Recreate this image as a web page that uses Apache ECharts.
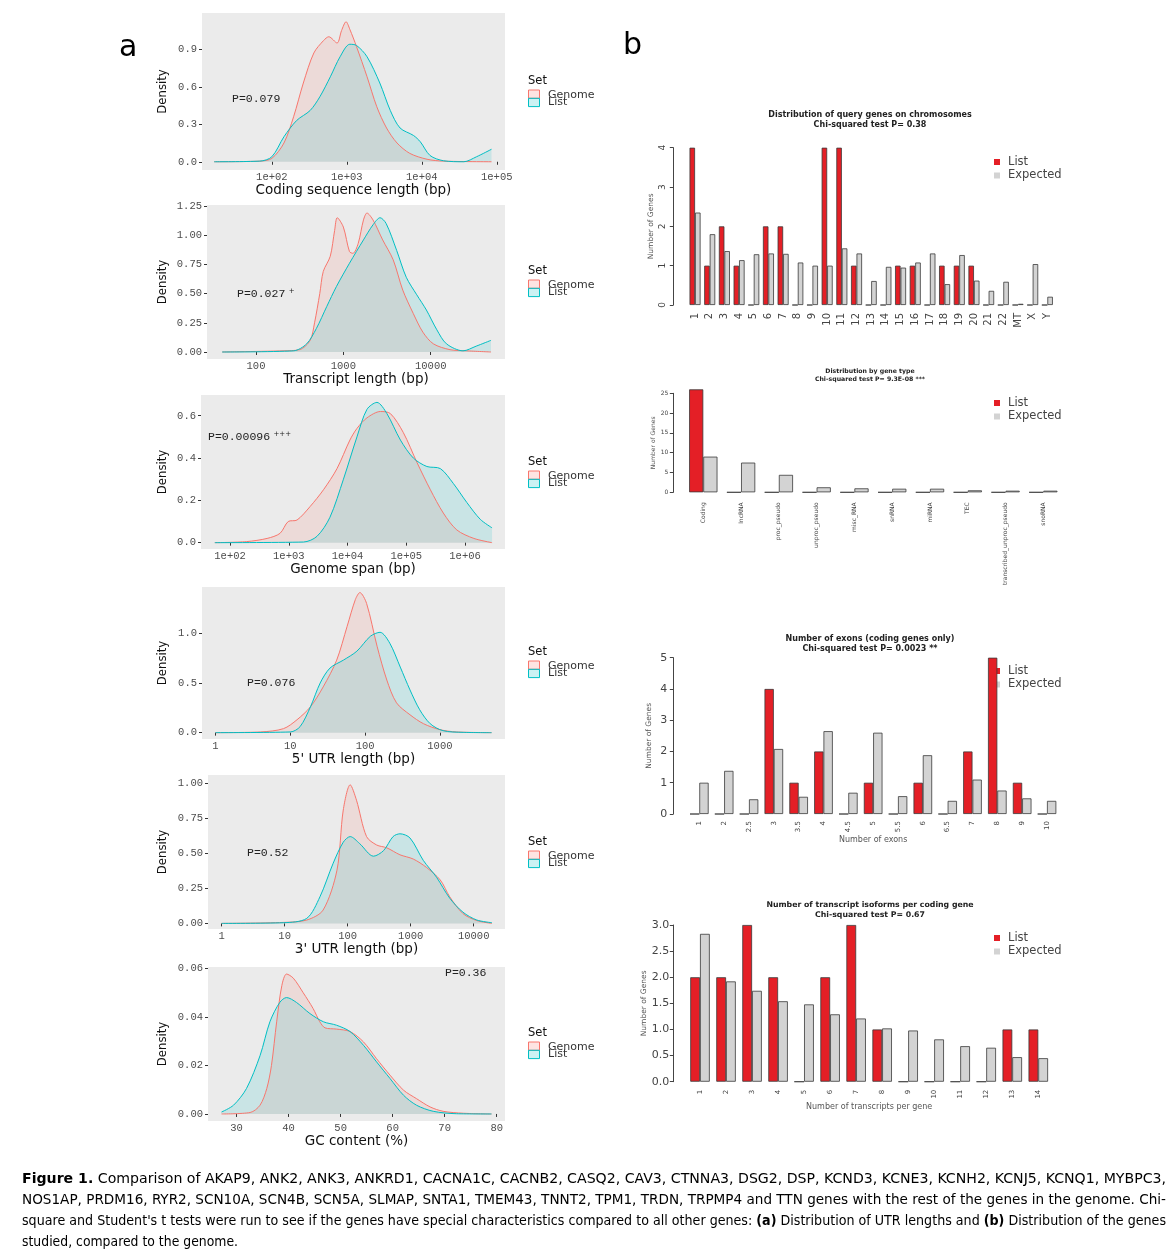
<!DOCTYPE html>
<html><head><meta charset="utf-8">
<script src="https://cdn.jsdelivr.net/npm/echarts@6/dist/echarts.min.js"></script>
<style>html,body{margin:0;padding:0;background:#fff}#c{width:1176px;height:1257px}</style>
</head><body><div id="c"></div>
<script>
// ---------------- Panel a: density curves (x in bp / %, y = density) ----------------
const cdsGenome = [[17,0],[69,0.005],[100,0.027],[145,0.15],[195,0.36],[263,0.63],[363,0.87],[490,0.97],[575,1.0],[741,0.95],[851,1.05],[977,1.12],[1096,1.06],[1349,0.92],[1862,0.68],[2512,0.44],[3388,0.27],[4677,0.15],[6918,0.067],[11749,0.02],[19498,0.005],[85114,0]];
const cdsList = [[17,0],[69,0.005],[100,0.04],[145,0.2],[214,0.33],[324,0.41],[437,0.52],[603,0.68],[813,0.84],[1096,0.94],[1349,0.93],[1862,0.84],[2754,0.63],[3802,0.41],[5129,0.27],[7762,0.21],[9550,0.16],[12882,0.05],[19498,0.008],[36308,0],[53703,0.04],[85114,0.1]];
const cdsXTicks = [100,1000,10000,100000];
const cdsXLabels = ['1e+02','1e+03','1e+04','1e+05'];
const cdsYTicks = [0,0.3,0.6,0.9];
const cdsYLabels = ['0.0','0.3','0.6','0.9'];

const txGenome = [[41,0],[204,0.01],[316,0.02],[417,0.1],[468,0.25],[537,0.5],[589,0.69],[708,0.82],[794,1.04],[851,1.15],[1000,1.07],[1175,0.86],[1288,0.845],[1479,0.93],[1698,1.13],[1862,1.19],[2188,1.13],[2818,0.96],[3715,0.79],[4786,0.53],[6310,0.33],[8128,0.17],[10715,0.07],[16596,0.02],[25704,0.01],[48978,0]];
const txList = [[41,0],[269,0.01],[380,0.07],[490,0.2],[646,0.39],[832,0.56],[1175,0.76],[1698,0.96],[2188,1.09],[2630,1.15],[3090,1.1],[4074,0.87],[5248,0.64],[6918,0.49],[8913,0.36],[11749,0.19],[15136,0.07],[23442,0.01],[33113,0.05],[48978,0.1]];
const txXTicks = [100,1000,10000];
const txXLabels = ['100','1000','10000'];
const txYTicks = [0,0.25,0.5,0.75,1,1.25];
const txYLabels = ['0.00','0.25','0.50','0.75','1.00','1.25'];

const spanGenome = [[55,0],[191,0.005],[427,0.02],[708,0.044],[977,0.1],[1380,0.107],[2291,0.17],[3890,0.25],[6607,0.35],[10965,0.485],[14454,0.54],[21380,0.59],[36308,0.62],[53703,0.61],[89125,0.52],[151356,0.38],[257040,0.25],[426580,0.14],[724436,0.06],[1412538,0.02],[2884032,0]];
const spanList = [[55,0],[1778,0.003],[3020,0.03],[5012,0.12],[8511,0.3],[14454,0.5],[21380,0.63],[31623,0.663],[46774,0.61],[79433,0.485],[131826,0.4],[223872,0.36],[380189,0.35],[630957,0.28],[1071519,0.19],[1819701,0.11],[2884032,0.07]];
const spanXTicks = [100,1000,10000,100000,1000000];
const spanXLabels = ['1e+02','1e+03','1e+04','1e+05','1e+06'];
const spanYTicks = [0,0.2,0.4,0.6];
const spanYLabels = ['0.0','0.2','0.4','0.6'];

const utr5Genome = [[1,0],[4,0.007],[8.1,0.04],[12.3,0.13],[18.6,0.26],[27.5,0.46],[41.7,0.73],[57.5,1.07],[74.1,1.34],[85.1,1.41],[104.7,1.3],[144.5,0.87],[195,0.53],[263,0.3],[398,0.18],[603,0.09],[1000,0.03],[1660,0.007],[4898,0]];
const utr5List = [[1,0],[10,0.007],[13.5,0.06],[18.6,0.26],[25.1,0.5],[33.9,0.65],[51.3,0.73],[77.6,0.82],[117.5,0.97],[158.5,1.01],[213.8,0.9],[295,0.66],[398,0.43],[537,0.23],[741,0.09],[1096,0.02],[2042,0.003],[4898,0]];
const utr5XTicks = [1,10,100,1000];
const utr5XLabels = ['1','10','100','1000'];
const utr5YTicks = [0,0.5,1];
const utr5YLabels = ['0.0','0.5','1.0'];

const utr3Genome = [[1,0],[9.5,0.007],[22.4,0.024],[40.7,0.095],[67.6,0.38],[85.1,0.81],[109.6,0.99],[138,0.88],[199.5,0.62],[288.4,0.56],[416.9,0.54],[676,0.49],[1096,0.46],[1778,0.4],[2951,0.31],[4169,0.19],[6761,0.07],[11220,0.02],[19498,0]];
const utr3List = [[1,0],[9.5,0.005],[22.4,0.036],[36.3,0.19],[58.9,0.43],[85.1,0.58],[109.6,0.62],[155,0.57],[257,0.48],[371.5,0.52],[524.8,0.62],[676,0.64],[977,0.61],[1585,0.45],[2570,0.33],[4169,0.18],[6761,0.08],[11220,0.024],[19498,0.005]];
const utr3XTicks = [1,10,100,1000,10000];
const utr3XLabels = ['1','10','100','1000','10000'];
const utr3YTicks = [0,0.25,0.5,0.75,1];
const utr3YLabels = ['0.00','0.25','0.50','0.75','1.00'];

const gcGenome = [[27.1,0],[32.6,0.0006],[34.5,0.0036],[35.8,0.0105],[36.7,0.02],[37.7,0.038],[38.7,0.053],[39.6,0.0577],[40.9,0.056],[42.8,0.05],[44.7,0.0435],[46.0,0.038],[47.0,0.0355],[49.2,0.035],[51.8,0.034],[54.4,0.0297],[56.9,0.0228],[59.5,0.016],[62.1,0.0098],[64.6,0.0063],[67.2,0.0029],[69.7,0.0011],[73.6,0.0003],[79.0,0]];
const gcList = [[27.1,0.0008],[29.4,0.0036],[31.9,0.0105],[34.5,0.024],[36.4,0.038],[38.3,0.046],[39.6,0.048],[41.5,0.046],[44.1,0.0414],[46.7,0.038],[49.2,0.0366],[51.8,0.034],[54.4,0.0283],[56.9,0.0215],[59.5,0.0146],[62.1,0.0077],[64.6,0.0036],[67.8,0.0011],[72.3,0.0001],[79.0,0]];
const gcXTicks = [30,40,50,60,70,80];
const gcXLabels = ['30','40','50','60','70','80'];
const gcYTicks = [0,0.02,0.04,0.06];
const gcYLabels = ['0.00','0.02','0.04','0.06'];

const densityTitles = ['Coding sequence length (bp)','Transcript length (bp)','Genome span (bp)',"5' UTR length (bp)","3' UTR length (bp)",'GC content (%)'];
const densityPValues = ['P=0.079','P=0.027','P=0.00096','P=0.076','P=0.52','P=0.36'];
const densityPMarks = ['','+','+++','','',''];
const setNames = ['Genome','List'];

// ---------------- Panel b: bar charts ----------------
const chromCategories = ['1','2','3','4','5','6','7','8','9','10','11','12','13','14','15','16','17','18','19','20','21','22','MT','X','Y'];
const chromList = [4,1,2,1,0,2,2,0,0,4,4,1,0,0,1,1,0,1,1,1,0,0,0,0,0];
const chromExpected = [2.35,1.8,1.37,1.14,1.29,1.31,1.3,1.08,1.0,1.0,1.44,1.31,0.61,0.97,0.95,1.08,1.31,0.53,1.27,0.62,0.36,0.59,0.03,1.04,0.21];

const typeCategories = ['Coding','lncRNA','proc_pseudo','unproc_pseudo','misc_RNA','snRNA','miRNA','TEC','transcribed_unproc_pseudo','snoRNA'];
const typeList = [26,0,0,0,0,0,0,0,0,0];
const typeExpected = [9.0,7.5,4.4,1.26,1.0,0.9,0.9,0.5,0.4,0.4];

const exonCategories = ['1','2','2.5','3','3.5','4','4.5','5','5.5','6','6.5','7','8','9','10'];
const exonList = [0,0,0,4,1,2,0,1,0,1,0,2,5,1,0];
const exonExpected = [1.0,1.38,0.47,2.08,0.55,2.65,0.68,2.6,0.57,1.88,0.42,1.1,0.75,0.5,0.42];

const isoCategories = ['1','2','3','4','5','6','7','8','9','10','11','12','13','14'];
const isoList = [2,2,3,2,0,2,3,1,0,0,0,0,1,1];
const isoExpected = [2.83,1.92,1.74,1.54,1.48,1.29,1.21,1.02,0.98,0.81,0.68,0.65,0.47,0.45];

const barTitles = [
  ['Distribution of query genes on chromosomes','Chi-squared test P= 0.38'],
  ['Distribution by gene type','Chi-squared test P= 9.3E-08 ***'],
  ['Number of exons (coding genes only)','Chi-squared test P= 0.0023 **'],
  ['Number of transcript isoforms per coding gene','Chi-squared test P= 0.67']
];
const barSeriesNames = ['List','Expected'];
const barXNames = ['', '', 'Number of exons', 'Number of transcripts per gene'];
const barYName = 'Number of Genes';

const captionLines = [
  '{b|Figure 1.} Comparison of AKAP9, ANK2, ANK3, ANKRD1, CACNA1C, CACNB2, CASQ2, CAV3, CTNNA3, DSG2, DSP, KCND3, KCNE3, KCNH2, KCNJ5, KCNQ1, MYBPC3,',
  'NOS1AP, PRDM16, RYR2, SCN10A, SCN4B, SCN5A, SLMAP, SNTA1, TMEM43, TNNT2, TPM1, TRDN, TRPMP4 and TTN genes with the rest of the genes in the genome. Chi-',
  "square and Student's t tests were run to see if the genes have special characteristics compared to all other genes: {b|(a)} Distribution of UTR lengths and {b|(b)} Distribution of the genes",
  'studied, compared to the genome.'
];

// ---------------- Layout & styles ----------------
const densityData = [
  {genome: cdsGenome, list: cdsList, xt: cdsXTicks, xl: cdsXLabels, yt: cdsYTicks, yl: cdsYLabels},
  {genome: txGenome, list: txList, xt: txXTicks, xl: txXLabels, yt: txYTicks, yl: txYLabels},
  {genome: spanGenome, list: spanList, xt: spanXTicks, xl: spanXLabels, yt: spanYTicks, yl: spanYLabels},
  {genome: utr5Genome, list: utr5List, xt: utr5XTicks, xl: utr5XLabels, yt: utr5YTicks, yl: utr5YLabels},
  {genome: utr3Genome, list: utr3List, xt: utr3XTicks, xl: utr3XLabels, yt: utr3YTicks, yl: utr3YLabels},
  {genome: gcGenome, list: gcList, xt: gcXTicks, xl: gcXLabels, yt: gcYTicks, yl: gcYLabels}
];
const densityLayout = [
  {left:202, top:13, width:303, height:157, log:true, xMin:11.7, xMax:128825, yMin:-0.066, yMax:1.19, pX:232, pY:99, setY:81},
  {left:207, top:205, width:298, height:154, log:true, xMin:27.5, xMax:70795, yMin:-0.06, yMax:1.259, pX:237, pY:294, setY:271},
  {left:201, top:395, width:304, height:154, log:true, xMin:32, xMax:4786300, yMin:-0.03, yMax:0.698, pX:208, pY:437, setY:462},
  {left:202, top:587, width:303, height:152, log:true, xMin:0.66, xMax:7413, yMin:-0.064, yMax:1.466, pX:247, pY:683, setY:652},
  {left:208, top:775, width:297, height:154, log:true, xMin:0.607, xMax:31400, yMin:-0.04, yMax:1.06, pX:247, pY:853, setY:842},
  {left:208, top:967, width:297, height:154, log:false, xMin:24.5, xMax:81.6, yMin:-0.0029, yMax:0.0606, pX:445, pY:973, setY:1033}
];
const barData = [
  {cats: chromCategories, list: chromList, exp: chromExpected},
  {cats: typeCategories, list: typeList, exp: typeExpected},
  {cats: exonCategories, list: exonList, exp: exonExpected},
  {cats: isoCategories, list: isoList, exp: isoExpected}
];
const barLayout = [
  {left:687.7, top:147.7, width:367, height:157.3, max:4, interval:1, offset:14.4, yRot:90, yFont:9, yMargin:6, xFont:10, xMargin:8, titleY:115, titleFont:8, legY:162, legFont:11.5, yNameGap:18, yNameFont:7.5, xNameGap:0},
  {left:684.4, top:393.3, width:377.8, height:99, max:25, interval:5, offset:11.1, yRot:0, yFont:6, yMargin:5, xFont:6, xMargin:10, titleY:371.5, titleFont:6.2, legY:403, legFont:11.5, yNameGap:16, yNameFont:6, xNameGap:0},
  {left:686.9, top:657.7, width:372.5, height:156.3, max:5, interval:1, offset:13.6, yRot:0, yFont:11, yMargin:6, xFont:7, xMargin:7, titleY:639, titleFont:8, legY:671, legFont:11.5, yNameGap:20, yNameFont:7.5, xNameGap:19},
  {left:687, top:925, width:364.3, height:156.7, max:3, interval:0.5, offset:13.7, yRot:0, yFont:11, yMargin:4, xFont:7, xMargin:8, titleY:905, titleFont:7.8, legY:938, legFont:11.5, yNameGap:20, yNameFont:7.5, xNameGap:19}
];
const captionLayout = {x: 22, y: [1179, 1200, 1221.5, 1242], width: [1144, 1144, 1144, 216], fontSize: 14.5};
const RED = '#F8766D', TEAL = '#00BFC4';
const monoFont = "'Liberation Mono', 'DejaVu Sans Mono', monospace";
const sansFont = "'DejaVu Sans', sans-serif";
const narrowFont = "'Liberation Sans Narrow', 'DejaVu Sans Condensed', 'Liberation Sans', sans-serif";

function labelFrom(ticks, labels) {
  return function (v) {
    const i = ticks.findIndex(t => Math.abs(t - v) <= Math.abs(t) * 1e-6 + 1e-12);
    return i >= 0 ? labels[i] : '';
  };
}

const grids = [], xAxes = [], yAxes = [], series = [], graphics = [];

densityData.forEach((d, i) => {
  const L = densityLayout[i];
  grids.push({left: L.left, top: L.top, width: L.width, height: L.height, show: true, backgroundColor: '#EBEBEB', borderWidth: 0, containLabel: false});
  xAxes.push({
    gridIndex: i, type: L.log ? 'log' : 'value', logBase: 10, min: L.xMin, max: L.xMax,
    axisLine: {show: false}, splitLine: {show: false},
    axisTick: {show: true, length: 3, lineStyle: {color: '#333', width: 1}, customValues: d.xt},
    axisLabel: {customValues: d.xt, formatter: labelFrom(d.xt, d.xl), margin: 2, fontFamily: monoFont, fontSize: 10.5, color: '#4d4d4d'},
    name: densityTitles[i], nameLocation: 'middle', nameGap: 5,
    nameTextStyle: {fontFamily: sansFont, fontSize: 13.5, color: '#111'}
  });
  yAxes.push({
    gridIndex: i, type: 'value', min: L.yMin, max: L.yMax,
    axisLine: {show: false}, splitLine: {show: false},
    axisTick: {show: true, length: 3, lineStyle: {color: '#333', width: 1}, customValues: d.yt},
    axisLabel: {customValues: d.yt, formatter: labelFrom(d.yt, d.yl), margin: 5, fontFamily: monoFont, fontSize: 10.5, color: '#4d4d4d'},
    name: 'Density', nameLocation: 'middle', nameGap: L.left - 169,
    nameTextStyle: {fontFamily: narrowFont, fontSize: 13, color: '#111'}
  });
  series.push({
    type: 'line', name: setNames[0], xAxisIndex: i, yAxisIndex: i, data: d.genome,
    smooth: 0.3, symbol: 'none', silent: true,
    lineStyle: {color: RED, width: 1}, itemStyle: {color: RED},
    areaStyle: {color: 'rgba(248,118,109,0.2)'}
  });
  series.push({
    type: 'line', name: setNames[1], xAxisIndex: i, yAxisIndex: i, data: d.list,
    smooth: 0.3, symbol: 'none', silent: true,
    lineStyle: {color: TEAL, width: 1}, itemStyle: {color: TEAL},
    areaStyle: {color: 'rgba(0,191,196,0.2)'}
  });
  graphics.push({type: 'text', x: L.pX, y: L.pY, style: {
    text: '{p|' + densityPValues[i] + '}' + (densityPMarks[i] ? ' {s|' + densityPMarks[i] + '}' : ''),
    rich: {p: {fontFamily: monoFont, fontSize: 11.5, fill: '#222'}, s: {fontFamily: sansFont, fontSize: 7, fill: '#222', padding: [0, 0, 5, 0]}},
    verticalAlign: 'middle', align: 'left'}});
  graphics.push({type: 'text', x: 528, y: L.setY, style: {text: 'Set', fontFamily: sansFont, fontSize: 11.5, fill: '#111', verticalAlign: 'middle', align: 'left'}});
  graphics.push({type: 'rect', shape: {x: 528.5, y: L.setY + 9, width: 11, height: 8.3}, style: {fill: 'rgba(248,118,109,0.2)', stroke: RED, lineWidth: 1}});
  graphics.push({type: 'rect', shape: {x: 528.5, y: L.setY + 17.3, width: 11, height: 8.3}, style: {fill: 'rgba(0,191,196,0.2)', stroke: TEAL, lineWidth: 1}});
  graphics.push({type: 'text', x: 548, y: L.setY + 14, style: {text: setNames[0], fontFamily: sansFont, fontSize: 11, fill: '#333', verticalAlign: 'middle', align: 'left'}});
  graphics.push({type: 'text', x: 548, y: L.setY + 21.5, style: {text: setNames[1], fontFamily: sansFont, fontSize: 11, fill: '#333', verticalAlign: 'middle', align: 'left'}});
});

barData.forEach((d, k) => {
  const i = densityData.length + k;
  const L = barLayout[k];
  grids.push({left: L.left, top: L.top, width: L.width, height: L.height, show: false, containLabel: false});
  xAxes.push({
    gridIndex: i, type: 'category', data: d.cats,
    axisLine: {show: false}, axisTick: {show: false}, splitLine: {show: false},
    axisLabel: {rotate: 90, interval: 0, fontFamily: sansFont, fontSize: L.xFont, color: '#444', margin: L.xMargin},
    name: barXNames[k], nameLocation: 'middle', nameGap: L.xNameGap,
    nameTextStyle: {fontFamily: sansFont, fontSize: 8, color: '#555'}
  });
  yAxes.push({
    gridIndex: i, type: 'value', min: 0, max: L.max, interval: L.interval, offset: L.offset,
    axisLine: {show: true, lineStyle: {color: '#444', width: 1}},
    axisTick: {show: true, length: 3.5, lineStyle: {color: '#444', width: 1}},
    splitLine: {show: false},
    axisLabel: {rotate: L.yRot, fontFamily: sansFont, fontSize: L.yFont, color: '#444', margin: L.yMargin,
      formatter: L.interval < 1 ? (v) => v.toFixed(1) : (v) => String(v)},
    name: barYName, nameLocation: 'middle', nameGap: L.yNameGap,
    nameTextStyle: {fontFamily: sansFont, fontSize: L.yNameFont, color: '#555'}
  });
  series.push({
    type: 'bar', name: barSeriesNames[0], xAxisIndex: i, yAxisIndex: i, data: d.list,
    barGap: '0%', barCategoryGap: '25%', clip: false, silent: true,
    itemStyle: {color: '#E41F26', borderColor: '#3a3a3a', borderWidth: 0.8}
  });
  series.push({
    type: 'bar', name: barSeriesNames[1], xAxisIndex: i, yAxisIndex: i, data: d.exp,
    barGap: '0%', barCategoryGap: '25%', clip: false, silent: true,
    itemStyle: {color: '#D3D3D3', borderColor: '#3a3a3a', borderWidth: 0.8}
  });
  const cx = 870;
  graphics.push({type: 'text', x: cx, y: L.titleY, style: {text: barTitles[k][0], fontFamily: sansFont, fontWeight: 'bold', fontSize: L.titleFont, fill: '#222', align: 'center', verticalAlign: 'middle'}});
  graphics.push({type: 'text', x: cx, y: L.titleY + L.titleFont * 1.25, style: {text: barTitles[k][1], fontFamily: sansFont, fontWeight: 'bold', fontSize: L.titleFont, fill: '#222', align: 'center', verticalAlign: 'middle'}});
  graphics.push({type: 'rect', shape: {x: 994, y: L.legY - 3, width: 6, height: 6}, style: {fill: '#E41F26'}});
  graphics.push({type: 'rect', shape: {x: 994, y: L.legY + 10.5, width: 6, height: 6}, style: {fill: '#D3D3D3'}});
  graphics.push({type: 'text', x: 1008, y: L.legY, style: {text: barSeriesNames[0], fontFamily: sansFont, fontSize: L.legFont, fill: '#444', align: 'left', verticalAlign: 'middle'}});
  graphics.push({type: 'text', x: 1008, y: L.legY + 13.5, style: {text: barSeriesNames[1], fontFamily: sansFont, fontSize: L.legFont, fill: '#444', align: 'left', verticalAlign: 'middle'}});
});

graphics.push({type: 'text', x: 119, y: 48, style: {text: 'a', fontFamily: sansFont, fontSize: 30, fill: '#000', verticalAlign: 'middle'}});
graphics.push({type: 'text', x: 623, y: 46, style: {text: 'b', fontFamily: sansFont, fontSize: 30, fill: '#000', verticalAlign: 'middle'}});

// caption: each line stretched/compressed horizontally to the justified width
const measureCtx = document.createElement('canvas').getContext('2d');
function measureRich(line, size) {
  let w = 0;
  const re = /\{b\|([^}]*)\}/g;
  let last = 0, m;
  while ((m = re.exec(line)) !== null) {
    measureCtx.font = size + 'px ' + narrowFont;
    w += measureCtx.measureText(line.slice(last, m.index)).width;
    measureCtx.font = 'bold ' + size + 'px ' + narrowFont;
    w += measureCtx.measureText(m[1]).width;
    last = re.lastIndex;
  }
  measureCtx.font = size + 'px ' + narrowFont;
  w += measureCtx.measureText(line.slice(last)).width;
  return w;
}
captionLines.forEach((t, j) => {
  const fs = captionLayout.fontSize;
  const natural = measureRich(t, fs);
  graphics.push({type: 'text', x: captionLayout.x, y: captionLayout.y[j], scaleX: captionLayout.width[j] / natural, style: {
    text: t, fontFamily: narrowFont, fontSize: fs, fill: '#000', verticalAlign: 'middle', align: 'left',
    rich: {b: {fontFamily: narrowFont, fontSize: fs, fontWeight: 'bold', fill: '#000'}}
  }});
});

const chart = echarts.init(document.getElementById('c'), null, {renderer: 'canvas'});
chart.setOption({
  animation: false,
  backgroundColor: '#ffffff',
  grid: grids, xAxis: xAxes, yAxis: yAxes, series: series, graphic: graphics
});
</script>
</body></html>
